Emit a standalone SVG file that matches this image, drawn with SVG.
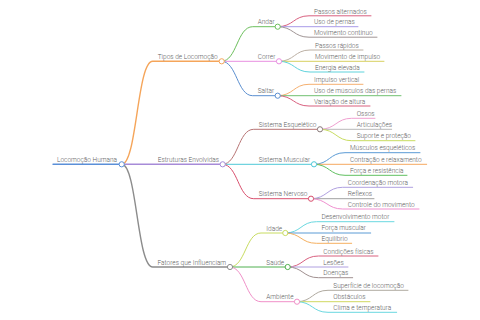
<svg xmlns="http://www.w3.org/2000/svg" width="480" height="320" viewBox="0 0 480 320">
<style>
.c{fill:none;stroke-width:1;stroke-linecap:round}
.c1{fill:none;stroke-width:1.4;stroke-linecap:round}
.d{fill:#fff;stroke-width:1}
text{font-family:Roboto,"Liberation Sans",sans-serif;font-size:6.5px;font-weight:300;fill:#606060}
</style>
<rect width="480" height="320" fill="#fff"/>
<g id="connectors">
<path class="c1" stroke="#5b8fd8" d="M53 164.3 H121.7"/>
<path class="c1" stroke="#f5a55a" d="M121.7 164.3 C137 164.3 137 61.3 152.7 61.3 H221.7"/>
<path class="c1" stroke="#a78bd8" d="M121.7 164.3 H222.7"/>
<path class="c1" stroke="#8c8c8c" d="M121.7 164.3 C137 164.3 137 267 152.7 267 H230"/>
<path class="c" stroke="#6cbf5c" d="M221.7 61.3 C237 61.3 237 26.7 252.7 26.7 H277.7"/>
<path class="c" stroke="#e88fe0" d="M221.7 61.3 H279"/>
<path class="c" stroke="#5b8fd0" d="M221.7 61.3 C237 61.3 237 95.7 252.7 95.7 H277.7"/>
<path class="c" stroke="#d9607f" d="M277.7 26.7 C293.5 26.7 293.5 15.8 309 15.8 H371"/>
<path class="c" stroke="#a89be8" d="M277.7 26.7 H358"/>
<path class="c" stroke="#a09595" d="M277.7 26.7 C293.5 26.7 293.5 37.2 309 37.2 H377"/>
<path class="c" stroke="#bcb0a4" d="M279 61.3 C294.5 61.3 294.5 50 310 50 H363"/>
<path class="c" stroke="#d8d060" d="M279 61.3 H384"/>
<path class="c" stroke="#5fd3dc" d="M279 61.3 C294.5 61.3 294.5 72 310 72 H364"/>
<path class="c" stroke="#f5b070" d="M277.7 95.7 C293.5 95.7 293.5 84.3 309 84.3 H363"/>
<path class="c" stroke="#70c070" d="M277.7 95.7 H401"/>
<path class="c" stroke="#d9607f" d="M277.7 95.7 C293.5 95.7 293.5 106 309 106 H370"/>
<path class="c" stroke="#b87575" d="M222.7 164.3 C238 164.3 238 129.3 253.7 129.3 H320"/>
<path class="c" stroke="#4ec8d8" d="M222.7 164.3 H314"/>
<path class="c" stroke="#d9506e" d="M222.7 164.3 C238 164.3 238 198.7 253.7 198.7 H311"/>
<path class="c" stroke="#f0a0d0" d="M320 129.3 C336 129.3 336 118.3 351.7 118.3 H375"/>
<path class="c" stroke="#b8b8b8" d="M320 129.3 H391.7"/>
<path class="c" stroke="#c8dc60" d="M320 129.3 C336 129.3 336 140.7 351.7 140.7 H415"/>
<path class="c" stroke="#5b9bd5" d="M314 164.3 C329.5 164.3 329.5 152.7 345 152.7 H420"/>
<path class="c" stroke="#f5a860" d="M314 164.3 H426.7"/>
<path class="c" stroke="#60c060" d="M314 164.3 C329.5 164.3 329.5 175.3 345 175.3 H407"/>
<path class="c" stroke="#b0a0e0" d="M311 198.7 C327 198.7 327 187.3 342.7 187.3 H412.7"/>
<path class="c" stroke="#a0a0a0" d="M311 198.7 H374"/>
<path class="c" stroke="#f090d0" d="M311 198.7 C327 198.7 327 209 342.7 209 H419"/>
<path class="c" stroke="#c8dc60" d="M230 267 C245.5 267 245.5 233 261 233 H285.3"/>
<path class="c" stroke="#50b050" d="M230 267 H287.7"/>
<path class="c" stroke="#f090c8" d="M230 267 C245.5 267 245.5 301.7 261 301.7 H297"/>
<path class="c" stroke="#6ad8e0" d="M285.3 233 C301 233 301 221.7 316.5 221.7 H394"/>
<path class="c" stroke="#5b9bd5" d="M285.3 233 H370.7"/>
<path class="c" stroke="#f5b060" d="M285.3 233 C301 233 301 243.3 316.5 243.3 H351.7"/>
<path class="c" stroke="#d9607f" d="M287.7 267 C303 267 303 256 318.5 256 H378"/>
<path class="c" stroke="#b0a0e0" d="M287.7 267 H348"/>
<path class="c" stroke="#a09090" d="M287.7 267 C303 267 303 277.7 318.5 277.7 H352.7"/>
<path class="c" stroke="#b0aaa0" d="M297 301.7 C312.5 301.7 312.5 290.3 328 290.3 H408"/>
<path class="c" stroke="#d0d860" d="M297 301.7 H370"/>
<path class="c" stroke="#6ad8e0" d="M297 301.7 C312.5 301.7 312.5 312.3 328 312.3 H396.7"/>
</g>
<g id="root"><text x="57" y="162">Locomoção Humana</text><circle class="d" stroke="#5b8fd8" cx="121.7" cy="164.3" r="2.6"/></g>
<g id="tipos"><text x="157.7" y="59">Tipos de Locomoção</text><circle class="d" stroke="#f5a55a" cx="221.7" cy="61.3" r="2.6"/></g>
<g id="andar"><text x="257.7" y="24.4">Andar</text><circle class="d" stroke="#6cbf5c" cx="277.7" cy="26.7" r="2.6"/></g>
<g id="correr"><text x="257.7" y="59">Correr</text><circle class="d" stroke="#e88fe0" cx="279" cy="61.3" r="2.6"/></g>
<g id="saltar"><text x="257.7" y="93.4">Saltar</text><circle class="d" stroke="#5b8fd0" cx="277.7" cy="95.7" r="2.6"/></g>
<g id="a1"><text x="314" y="13.5">Passos alternados</text></g>
<g id="a2"><text x="314" y="24.4">Uso de pernas</text></g>
<g id="a3"><text x="314" y="34.9">Movimento contínuo</text></g>
<g id="c1"><text x="315" y="47.7">Passos rápidos</text></g>
<g id="c2"><text x="315" y="59">Movimento de impulso</text></g>
<g id="c3"><text x="315" y="69.7">Energia elevada</text></g>
<g id="s1"><text x="314" y="82">Impulso vertical</text></g>
<g id="s2"><text x="314" y="93.4">Uso de músculos das pernas</text></g>
<g id="s3"><text x="314" y="103.7">Variação de altura</text></g>
<g id="estruturas"><text x="157.7" y="162">Estruturas Envolvidas</text><circle class="d" stroke="#a78bd8" cx="222.7" cy="164.3" r="2.6"/></g>
<g id="esqueletico"><text x="258.7" y="127">Sistema Esquelético</text><circle class="d" stroke="#8a7a7a" cx="320" cy="129.3" r="2.6"/></g>
<g id="muscular"><text x="258.7" y="162">Sistema Muscular</text><circle class="d" stroke="#4ec8d8" cx="314" cy="164.3" r="2.6"/></g>
<g id="nervoso"><text x="258.7" y="196.4">Sistema Nervoso</text><circle class="d" stroke="#d9506e" cx="311" cy="198.7" r="2.6"/></g>
<g id="e1"><text x="356.7" y="116">Ossos</text></g>
<g id="e2"><text x="356.7" y="127">Articulações</text></g>
<g id="e3"><text x="356.7" y="138.4">Suporte e proteção</text></g>
<g id="m1"><text x="350" y="150.4">Músculos esqueléticos</text></g>
<g id="m2"><text x="350" y="162">Contração e relaxamento</text></g>
<g id="m3"><text x="350" y="173">Força e resistência</text></g>
<g id="n1"><text x="347.7" y="185">Coordenação motora</text></g>
<g id="n2"><text x="347.7" y="196.4">Reflexos</text></g>
<g id="n3"><text x="347.7" y="206.7">Controle do movimento</text></g>
<g id="fatores"><text x="157.5" y="264.7">Fatores que Influenciam</text><circle class="d" stroke="#8c8c8c" cx="230" cy="267" r="2.6"/></g>
<g id="idade"><text x="266.3" y="230.7">Idade</text><circle class="d" stroke="#c8dc60" cx="285.3" cy="233" r="2.6"/></g>
<g id="saude"><text x="266.3" y="264.7">Saúde</text><circle class="d" stroke="#50b050" cx="287.7" cy="267" r="2.6"/></g>
<g id="ambiente"><text x="266.3" y="299.4">Ambiente</text><circle class="d" stroke="#f090c8" cx="297" cy="301.7" r="2.6"/></g>
<g id="i1"><text x="321.5" y="219.4">Desenvolvimento motor</text></g>
<g id="i2"><text x="321.5" y="230.4">Força muscular</text></g>
<g id="i3"><text x="321.5" y="241">Equilíbrio</text></g>
<g id="h1"><text x="323.3" y="253.7">Condições físicas</text></g>
<g id="h2"><text x="323.3" y="265">Lesões</text></g>
<g id="h3"><text x="323.3" y="275.4">Doenças</text></g>
<g id="b1"><text x="333.3" y="288">Superfície de locomoção</text></g>
<g id="b2"><text x="333.3" y="298.7">Obstáculos</text></g>
<g id="b3"><text x="333.3" y="310">Clima e temperatura</text></g>
</svg>
